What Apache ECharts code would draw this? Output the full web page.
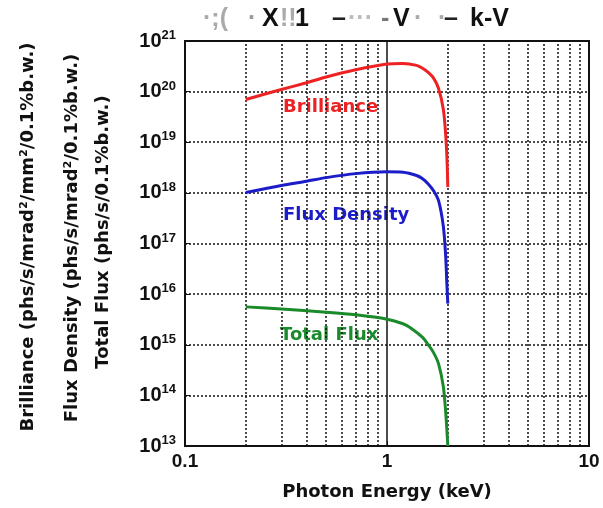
<!DOCTYPE html>
<html>
<head>
<meta charset="utf-8">
<script src="https://cdn.jsdelivr.net/npm/echarts@6/dist/echarts.min.js"></script>
<style>
  html, body { margin: 0; padding: 0; background: #fff; }
  #chart { width: 603px; height: 508px; }
</style>
</head>
<body>
<div id="chart"></div>
<script>
// photon energy (keV) and values
const brillianceE = [0.2, 0.3, 0.4, 0.5, 0.7, 1.0, 1.2, 1.4, 1.5, 1.6, 1.7, 1.8, 1.9, 1.95, 1.98, 2.0]
const brilliance = [7.0e19, 1.1e20, 1.5e20, 1.95e20, 2.7e20, 3.5e20, 3.6e20, 3.3e20, 2.9e20, 2.4e20, 1.85e20, 1.15e20, 4.5e19, 1.5e19, 5e18, 1.3e18]

const fluxDensityE = [0.2, 0.3, 0.4, 0.5, 0.7, 1.0, 1.2, 1.4, 1.5, 1.6, 1.7, 1.8, 1.9, 1.95, 1.98, 2.0]
const fluxDensity = [1.02e18, 1.4e18, 1.7e18, 2.0e18, 2.4e18, 2.6e18, 2.55e18, 2.2e18, 1.9e18, 1.5e18, 1.1e18, 7e17, 2.2e17, 6e16, 1.5e16, 6.5e15]

const totalFluxE = [0.2, 0.3, 0.5, 0.7, 1.0, 1.2, 1.3, 1.5, 1.6, 1.7, 1.8, 1.9, 1.95, 1.98, 2.0]
const totalFlux = [5.6e15, 5.1e15, 4.4e15, 3.9e15, 3.2e15, 2.6e15, 2.2e15, 1.4e15, 1.0e15, 7e14, 4.2e14, 1.5e14, 5e13, 2e13, 1e13]

// dotted vertical grid lines between decades
const minorE = [0.2, 0.3, 0.4, 0.5, 0.6, 0.7, 0.8, 0.9, 2, 3, 4, 5, 6, 7, 8, 9]

// the title is badly washed out in the source, pieces as they can be seen
const titleParts = [
  ['·;(', 203, '#aaa'], ['·', 248, '#999'], ['X', 262, '#111'], ['!!', 280, '#aaa'],
  ['1', 295, '#111'], ['–', 332, '#222'], ['···', 348, '#bbb'], ['-', 381, '#777'],
  ['V', 393, '#111'], ['·', 414, '#aaa'], ['·', 438, '#aaa'], ['–', 444, '#222'], ['k-V', 470, '#111']
]

const toPairs = (xs, ys) => xs.map((x, i) => [x, ys[i]])

const chart = echarts.init(document.getElementById('chart'))
const axisFont = 'Liberation Sans, Arial, sans-serif'
const wideFont = 'DejaVu Sans, Verdana, sans-serif'

const titleGraphics = titleParts.map(([t, x, c]) => ({
  type: 'text', x, y: 19,
  style: { text: t, font: 'bold 25px ' + axisFont, fill: c, verticalAlign: 'middle' }
}))

const option = {
  animation: false,
  grid: {
    left: 185,
    right: 14,
    top: 41,
    bottom: 62,
    show: true,
    borderColor: '#111',
    borderWidth: 2
  },
  xAxis: {
    type: 'log',
    logBase: 10,
    min: 0.1,
    max: 10,
    name: 'Photon Energy (keV)',
    nameLocation: 'middle',
    nameGap: 37,
    nameTextStyle: { fontFamily: wideFont, fontWeight: 'bold', fontSize: 18, color: '#111' },
    axisLine: { lineStyle: { color: '#111', width: 2 } },
    axisTick: { inside: true, length: 5, lineStyle: { color: '#111' } },
    axisLabel: {
      fontFamily: axisFont,
      fontWeight: 'bold',
      fontSize: 19,
      color: '#111',
      margin: 6,
      formatter: (v) => String(v)
    },
    splitLine: { show: false }
  },
  yAxis: {
    type: 'log',
    logBase: 10,
    min: 1e13,
    max: 1e21,
    splitNumber: 8,
    axisLine: { lineStyle: { color: '#111', width: 2 } },
    axisTick: { inside: true, length: 5, lineStyle: { color: '#111' } },
    axisLabel: {
      margin: 9,
      formatter: (v) => '{b|10}{s|' + Math.round(Math.log10(v)) + '}',
      rich: {
        b: { fontFamily: axisFont, fontWeight: 'bold', fontSize: 20, color: '#111' },
        s: { fontFamily: axisFont, fontWeight: 'bold', fontSize: 13, color: '#111', verticalAlign: 'top', padding: [0, 0, 11, 0] }
      }
    },
    splitLine: { show: true, lineStyle: { color: '#111', width: 1.5, type: [2, 2] } }
  },
  graphic: [
    ...titleGraphics,
    {
      type: 'text', x: 28, y: 237, rotation: Math.PI / 2,
      style: { text: 'Brilliance (phs/s/mrad²/mm²/0.1%b.w.)', font: 'bold 18px ' + wideFont, fill: '#111', align: 'center', verticalAlign: 'middle' }
    },
    {
      type: 'text', x: 72, y: 238, rotation: Math.PI / 2,
      style: { text: 'Flux Density (phs/s/mrad²/0.1%b.w.)', font: 'bold 18px ' + wideFont, fill: '#111', align: 'center', verticalAlign: 'middle' }
    },
    {
      type: 'text', x: 103, y: 232, rotation: Math.PI / 2,
      style: { text: 'Total Flux (phs/s/0.1%b.w.)', font: 'bold 18px ' + wideFont, fill: '#111', align: 'center', verticalAlign: 'middle' }
    },
    {
      type: 'text', x: 283, y: 107,
      style: { text: 'Brilliance', font: 'bold 18px ' + wideFont, fill: '#ee2222', verticalAlign: 'middle' }
    },
    {
      type: 'text', x: 283, y: 215,
      style: { text: 'Flux Density', font: 'bold 18px ' + wideFont, fill: '#1c1cc8', verticalAlign: 'middle' }
    },
    {
      type: 'text', x: 280, y: 335,
      style: { text: 'Total Flux', font: 'bold 18px ' + wideFont, fill: '#1a8a2a', verticalAlign: 'middle' }
    }
  ],
  series: [
    {
      name: 'Brilliance',
      type: 'line',
      data: toPairs(brillianceE, brilliance),
      showSymbol: false,
      smooth: 0.3,
      lineStyle: { color: '#ee2222', width: 3 },
      z: 5,
      markLine: {
        silent: true,
        symbol: 'none',
        label: { show: false },
        z: 1,
        data: [
          ...minorE.map((e) => ({ xAxis: e, lineStyle: { color: '#111', width: 1.5, type: [2, 2] } })),
          { xAxis: 1, lineStyle: { color: '#111', width: 1.5, type: 'solid' } }
        ]
      }
    },
    {
      name: 'Flux Density',
      type: 'line',
      data: toPairs(fluxDensityE, fluxDensity),
      showSymbol: false,
      smooth: 0.3,
      lineStyle: { color: '#1c1cc8', width: 3 },
      z: 5
    },
    {
      name: 'Total Flux',
      type: 'line',
      data: toPairs(totalFluxE, totalFlux),
      showSymbol: false,
      smooth: 0.3,
      lineStyle: { color: '#1a8a2a', width: 3 },
      z: 5
    }
  ]
}

chart.setOption(option)
</script>
</body>
</html>
